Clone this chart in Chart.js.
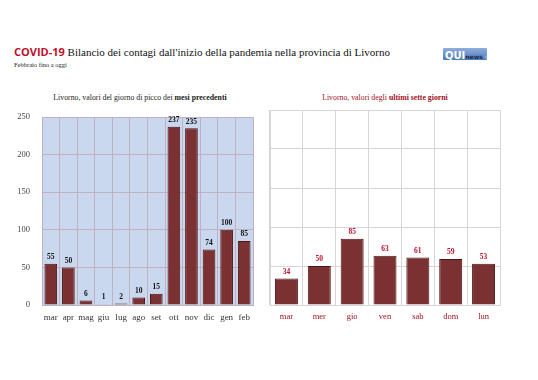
<!DOCTYPE html>
<html>
<head>
<meta charset="utf-8">
<script src="https://cdn.jsdelivr.net/npm/chart.js@4"></script>
<style>
    body { margin:0; width:538px; height:380px; background:#fff; position:relative; overflow:hidden; font-family:"Liberation Serif", serif; }
    .abs { position:absolute; white-space:nowrap; }
</style>
</head>
<body>
<div class="abs" style="left:14px; top:44px; font-size:11px; color:#111;">
    <span style="font-family:'Open Sans', sans-serif; font-weight:700; color:#c0102a;">COVID-19</span> Bilancio dei contagi dall'inizio della pandemia nella provincia di Livorno
</div>
<div class="abs" style="left:14px; top:61px; font-size:6.5px; color:#222;">Febbraio fino a oggi</div>
<div class="abs" style="left:443px; top:48px; width:44px; height:12px; background:linear-gradient(#8fb0dc,#4d79b8); border-radius:1px; font-family:'DejaVu Sans', sans-serif; line-height:12px;">
    <span style="color:#fff; font-weight:700; font-size:10px; margin-left:2px;">QUI</span><span style="color:#1d2c55; font-weight:700; font-size:6px;">news</span><span style="color:#b8cbe8; font-size:5px;">.it</span>
</div>

<div class="abs" style="left:0; width:280px; top:93px; text-align:center; font-size:7.8px; color:#222;">Livorno, valori del giorno di picco dei <b>mesi precedenti</b></div>
<div class="abs" style="left:270px; width:230px; top:93px; text-align:center; font-size:7.8px; color:#a0101c;">Livorno, valori degli <b>ultimi sette giorni</b></div>

<canvas id="chart-months" class="abs" style="left:0; top:100px;" width="268" height="235"></canvas>
<canvas id="chart-week" class="abs" style="left:268px; top:100px;" width="270" height="235"></canvas>

<script>
// Dati
const monthLabels = ['mar', 'apr', 'mag', 'giu', 'lug', 'ago', 'set', 'ott', 'nov', 'dic', 'gen', 'feb'];
const monthValues = [55, 50, 6, 1, 2, 10, 15, 237, 235, 74, 100, 85];
const weekLabels = ['mar', 'mer', 'gio', 'ven', 'sab', 'dom', 'lun'];
const weekValues = [34, 50, 85, 63, 61, 59, 53];
const yTicks = [0, 50, 100, 150, 200, 250];

// sfondo dell'area del grafico
const areaBg = {
    id: 'areaBg',
    beforeDraw(chart, args, opts) {
        if (!opts.color) return;
        const { ctx, chartArea: a } = chart;
        ctx.save();
        ctx.fillStyle = opts.color;
        ctx.fillRect(a.left, a.top, a.right - a.left, a.bottom - a.top);
        ctx.restore();
    }
};

// valori sopra le barre
const barValues = {
    id: 'barValues',
    afterDatasetsDraw(chart, args, opts) {
        const ctx = chart.ctx;
        const meta = chart.getDatasetMeta(0);
        ctx.save();
        ctx.font = 'bold ' + opts.size + 'px "Liberation Serif", serif';
        ctx.fillStyle = opts.color;
        ctx.textAlign = 'center';
        ctx.textBaseline = 'bottom';
        meta.data.forEach((bar, i) => {
            ctx.fillText(chart.data.datasets[0].data[i], bar.x, bar.y - 3);
        });
        ctx.restore();
    }
};

function makeChart(canvasId, labels, values, cfg) {
    return new Chart(document.getElementById(canvasId), {
        type: 'bar',
        data: {
            labels: labels,
            datasets: [{
                data: values,
                backgroundColor: '#7b3131',
                borderColor: '#4e1414',
                borderWidth: 1,
                barPercentage: cfg.barPct,
                categoryPercentage: 1
            }]
        },
        options: {
            responsive: false,
            animation: false,
            layout: { padding: cfg.padding },
            plugins: {
                legend: { display: false },
                tooltip: { enabled: false },
                areaBg: { color: cfg.bg },
                barValues: { color: cfg.valueColor, size: cfg.valueSize }
            },
            scales: {
                x: {
                    grid: { color: cfg.grid, offset: true, drawTicks: false },
                    border: { color: cfg.grid },
                    ticks: {
                        color: cfg.tickColor,
                        padding: 7,
                        autoSkip: false,
                        maxRotation: 0,
                        minRotation: 0,
                        font: { family: '"Liberation Serif", serif', size: cfg.xSize }
                    },
                    afterFit: (s) => { s.height = 30; }
                },
                y: {
                    min: 0,
                    max: 250,
                    afterBuildTicks: (s) => { s.ticks = yTicks.map(v => ({ value: v })); },
                    grid: { color: cfg.grid, drawTicks: false },
                    border: { color: cfg.grid },
                    ticks: {
                        display: cfg.yLabels,
                        color: '#444',
                        padding: 12,
                        font: { family: '"Liberation Serif", serif', size: 8.5 }
                    },
                    afterFit: (s) => { s.width = cfg.yWidth; }
                }
            }
        },
        plugins: [areaBg, barValues]
    });
}

makeChart('chart-months', monthLabels, monthValues, {
    barPct: 0.72,
    padding: { top: 11, right: 15, left: 0, bottom: 0 },
    bg: '#c9d8ef',
    grid: '#c0b0c2',
    tickColor: '#333',
    xSize: 9,
    valueColor: '#111',
    valueSize: 7.5,
    yLabels: true,
    yWidth: 42
});

makeChart('chart-week', weekLabels, weekValues, {
    barPct: 0.7,
    padding: { top: 10, right: 38, left: 2, bottom: 0 },
    bg: null,
    grid: '#d6d6d6',
    tickColor: '#a0101c',
    xSize: 8.5,
    valueColor: '#c0102a',
    valueSize: 7.5,
    yLabels: false,
    yWidth: 0
});
</script>
</body>
</html>
